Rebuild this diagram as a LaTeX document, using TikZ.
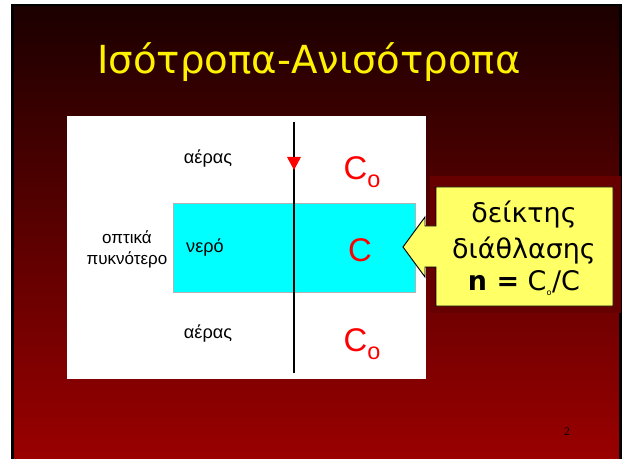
\documentclass[tikz,border=0pt]{standalone}
\usepackage{fontspec}
\setmainfont{DejaVu Sans}
\newfontfamily\arialfont{Liberation Sans}
\newfontfamily\timesfont{Liberation Serif}
\usetikzlibrary{positioning}

\definecolor{slidetop}{HTML}{1C0000}
\definecolor{slidebot}{HTML}{9A0000}
\definecolor{calloutyellow}{HTML}{FFFF66}
\definecolor{calloutframe}{HTML}{660000}
\definecolor{watercyan}{HTML}{00FFFF}

\begin{document}
\begin{tikzpicture}[x=0.03cm,y=-0.03cm,
    medium/.style={font=\arialfont\fontsize{15.5}{18}\selectfont, text=black},
    speed/.style={font=\arialfont\fontsize{28}{30}\selectfont, text=red, inner sep=0pt},
    callouttext/.style={font=\fontsize{23}{26}\selectfont, text=black, inner sep=0pt}
]
    \useasboundingbox (0,0) rectangle (622,459);
    % slide background
    \fill[white] (0,0) rectangle (622,459);
    \fill[black] (11,4) rectangle (622,459);
    \shade[top color=slidetop, bottom color=slidebot] (14,7) rectangle (619,459);

    % title
    \node[font=\fontsize{33}{40}\selectfont, text=yellow] (title) at (309,62) {Ισότροπα-Ανισότροπα};

    % white panel with the water layer
    \fill[white] (67,116) rectangle (426,379);
    \draw[gray!60, fill=watercyan] (173,203) rectangle (415,292);

    % ray through the layers
    \coordinate (raytop) at (294,122);
    \coordinate (raybot) at (294,373);
    \draw[line width=1.5pt] (raytop) -- (raybot);
    \fill[red] (287,157) -- (301,157) -- (294,170) -- cycle;%arrow head

    \node[medium] (air1) at (208,159) {αέρας};
    \node[medium] (water) at (205,248) {νερό};
    \node[medium] (air2) at (208,334) {αέρας};
    \node[medium, align=center, font=\arialfont\fontsize{14.5}{18}\selectfont] (denser) at (127,249) {οπτικά\\πυκνότερο};

    \node[speed] (co1) at (362,172) {C\raisebox{-7pt}{\fontsize{20}{20}\selectfont o}};
    \node[speed] (c) at (360,250) {C};
    \node[speed] (co2) at (362,344) {C\raisebox{-7pt}{\fontsize{20}{20}\selectfont o}};

    % callout
    \fill[calloutframe] (430,176) rectangle (621,313);
    \draw[fill=calloutyellow, line width=0.8pt] (436,187) -- (613,187) -- (613,306) -- (436,306)
        -- (436,267) -- (425,267) -- (425,277) -- (403,247) -- (425,217) -- (425,226)
        -- (436,226) -- cycle;
    \node[callouttext] (line1) at (524,215) {δείκτης};
    \node[callouttext, below=7pt of line1] (line2) {διάθλασης};
    \node[callouttext, below=5pt of line2] (line3) {\textbf{n =} C\textsubscript{\scriptsize o}/C};

    % page number
    \node[font=\timesfont\fontsize{10}{11}\selectfont, text=black] (pagenum) at (567,432) {2};
\end{tikzpicture}
\end{document}
